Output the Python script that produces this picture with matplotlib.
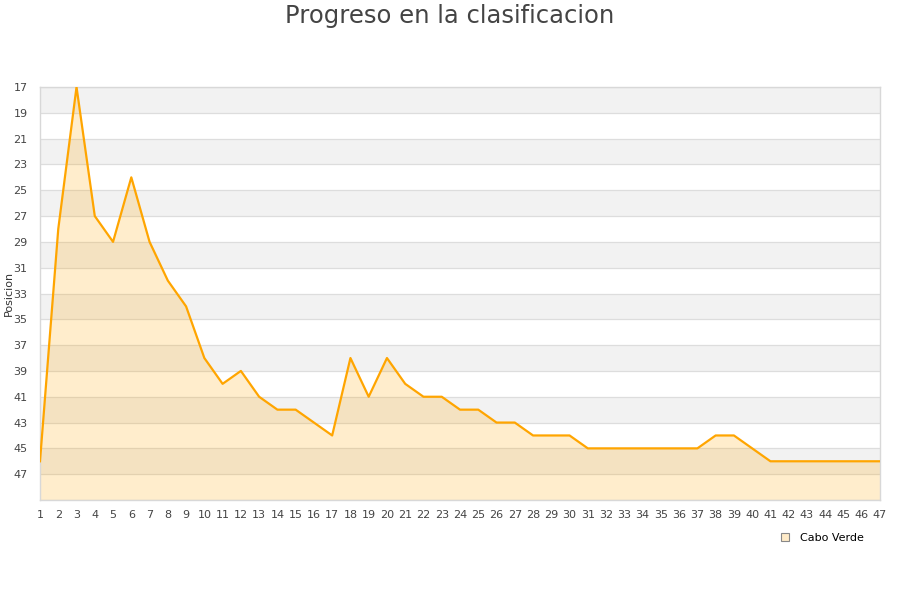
#!/usr/bin/env python3
"""Progreso en la clasificacion chart"""
import matplotlib
matplotlib.use("Agg")
import matplotlib.pyplot as plt
from matplotlib.lines import Line2D

jornadas = list(range(1, 48))
posicion = [46, 28, 17, 27, 29, 24, 29, 32, 34, 38,
            40, 39, 41, 42, 42, 43, 44, 38, 41, 38,
            40, 41, 41, 42, 42, 43, 43, 44, 44, 44,
            45, 45, 45, 45, 45, 45, 45, 44, 44, 45,
            46, 46, 46, 46, 46, 46, 46]
y_ticks = list(range(17, 49, 2))
serie = "Cabo Verde"

fig = plt.figure(figsize=(9, 6), dpi=100)
ax = fig.add_axes([40 / 900, 100 / 600, 840 / 900, 413 / 600])

y_min, y_max = 17, 49
# alternating horizontal bands
for i, t in enumerate(range(y_min, y_max, 2)):
    if i % 2 == 0:
        ax.axhspan(t, t + 2, color='#f2f2f2', zorder=0, lw=0)
for t in range(y_min, y_max + 1, 2):
    ax.axhline(t, color='#dddddd', lw=0.9, zorder=1)

ax.fill_between(jornadas, posicion, y_max, color='#ffa500', alpha=0.2, lw=0, zorder=2)
ax.plot(jornadas, posicion, color='#ffa500', lw=1.6, zorder=3)

ax.set_xlim(1, 47)
ax.set_ylim(y_max, y_min)
ax.set_xticks(jornadas)
ax.set_yticks(y_ticks)
ax.tick_params(axis='both', length=0, labelsize=8, colors='#444444')
ax.tick_params(axis='x', pad=7)
ax.tick_params(axis='y', pad=9)
for s in ax.spines.values():
    s.set_color('#d8d8d8')
    s.set_linewidth(1)

ax.set_ylabel('Posicion', fontsize=8, color='#333333', labelpad=0)
ax.yaxis.set_label_coords(-0.031, 0.5)
fig.text(0.5, 1 - 16 / 600, 'Progreso en la clasificacion', ha='center', va='center',
         fontsize=17.5, color='#444444')

handle = Line2D([], [], marker='s', ls='', markersize=6, markerfacecolor='#ffebc8',
                markeredgecolor='#888888', markeredgewidth=0.8)
fig.legend([handle], [serie], loc='center', bbox_to_anchor=(0.91, 0.103),
           frameon=False, fontsize=8, handletextpad=0.3)

plt.savefig('out.png', dpi=100)
